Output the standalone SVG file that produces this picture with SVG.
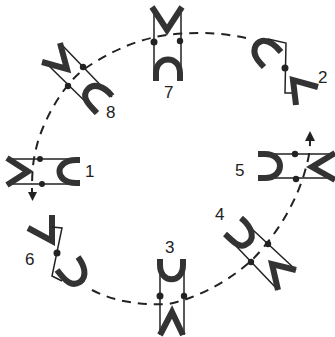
<svg xmlns="http://www.w3.org/2000/svg" width="335" height="337" viewBox="0 0 335 337">
<style>
.t{fill:none;stroke:#333;stroke-width:6;stroke-linejoin:miter}
.l{fill:none;stroke:#222;stroke-width:1.5}
.d{fill:#222}
.n{font-family:"Liberation Sans",Arial,sans-serif;font-size:17px;fill:#222}
.c{fill:none;stroke:#222;stroke-width:2;stroke-dasharray:9 7}
</style>
<rect width="335" height="337" fill="#fff"/>
<g id="connectors">
<path class="c" d="M246,38C220,32 190,32 167,35C130,40 100,58 83,70C60,88 42,125 37,145C33,160 32,170 32,192"/>
<path d="M28,192H37L32.500,201Z" fill="#222"/>
<path class="c" d="M92,290C115,302 140,305 168,304C200,298 232,278 251,261C280,232 298,197 305,171C309,158 310,150 310,141"/>
<path d="M305,141H315L310,131Z" fill="#222"/>
</g>
<g id="node1">
<path class="l" d="M7,159H80M7,184H80"/>
<path class="t" d="M7,158L28,171.500L7,185"/>
<path class="t" d="M80,160H76C54,160 54,183 76,183H80"/>
<circle class="d" cx="40" cy="159" r="3"/><circle class="d" cx="42" cy="184" r="3"/>
<text class="n" x="85" y="177">1</text>
</g>
<g id="node2">
<path class="t" d="M281,52C275,45 268,40 262,41C254,43 253,52 256,57C258,61 261,64 264,67"/>
<path class="l" d="M268,39L286,43L285,93H293"/>
<circle class="d" cx="285" cy="68" r="3.500"/>
<path class="t" d="M318,87L293,80L296,105"/>
<text class="n" x="318" y="83">2</text>
</g>
<g id="node3">
<path class="l" d="M160,260V335M184,260V335"/>
<path class="t" d="M160,259V265C160,284 183,284 183,265V259"/>
<circle class="d" cx="160" cy="296" r="3.500"/><circle class="d" cx="184" cy="296" r="3.200"/>
<path class="t" d="M160,335L172,312L183,335"/>
<text class="n" x="165" y="253">3</text>
</g>
<g id="node4">
<path class="l" d="M253,230L296,270M236,246L278,290"/>
<path class="t" d="M241,218C253,228 256,240 245,245C238,248 232,240 225,234"/>
<circle class="d" cx="268" cy="244" r="3.200"/><circle class="d" cx="251" cy="262" r="3.200"/>
<path class="t" d="M296,270L272,264L278,290"/>
<text class="n" x="215" y="220">4</text>
</g>
<g id="node5">
<path class="l" d="M258,154H335M258,178H335"/>
<path class="t" d="M258,154H265C285,154 285,178 265,178H258"/>
<circle class="d" cx="295" cy="154" r="3.200"/><circle class="d" cx="296" cy="179" r="3.200"/>
<path class="t" d="M335,153L312,167L335,180"/>
<text class="n" x="235" y="176">5</text>
</g>
<g id="node6">
<path class="t" d="M28,228L52,241L52,215"/>
<path class="l" d="M52,227L62,228L52,276L62,281"/>
<circle class="d" cx="57" cy="253" r="3.500"/>
<path class="t" d="M57,270C66,282 72,287 80,282C88,276 84,265 78,257"/>
<text class="n" x="25" y="265">6</text>
</g>
<g id="node7">
<path class="l" d="M154,8V80M181,8V80"/>
<path class="t" d="M152,7L167,30L182,7"/>
<path class="t" d="M156,81V73C156,55 180,55 180,73V81"/>
<circle class="d" cx="154" cy="42" r="3.500"/><circle class="d" cx="180" cy="41" r="3.200"/>
<text class="n" x="164" y="98">7</text>
</g>
<g id="node8">
<path class="l" d="M62,45L112,97M48,65L97,113"/>
<path class="t" d="M42,62L67,69L60,43"/>
<path class="t" d="M112,96C104,86 94,83 88,89C80,97 90,106 97,113"/>
<circle class="d" cx="83" cy="67" r="3.200"/><circle class="d" cx="68" cy="86" r="3.200"/>
<text class="n" x="106" y="118">8</text>
</g>
</svg>
